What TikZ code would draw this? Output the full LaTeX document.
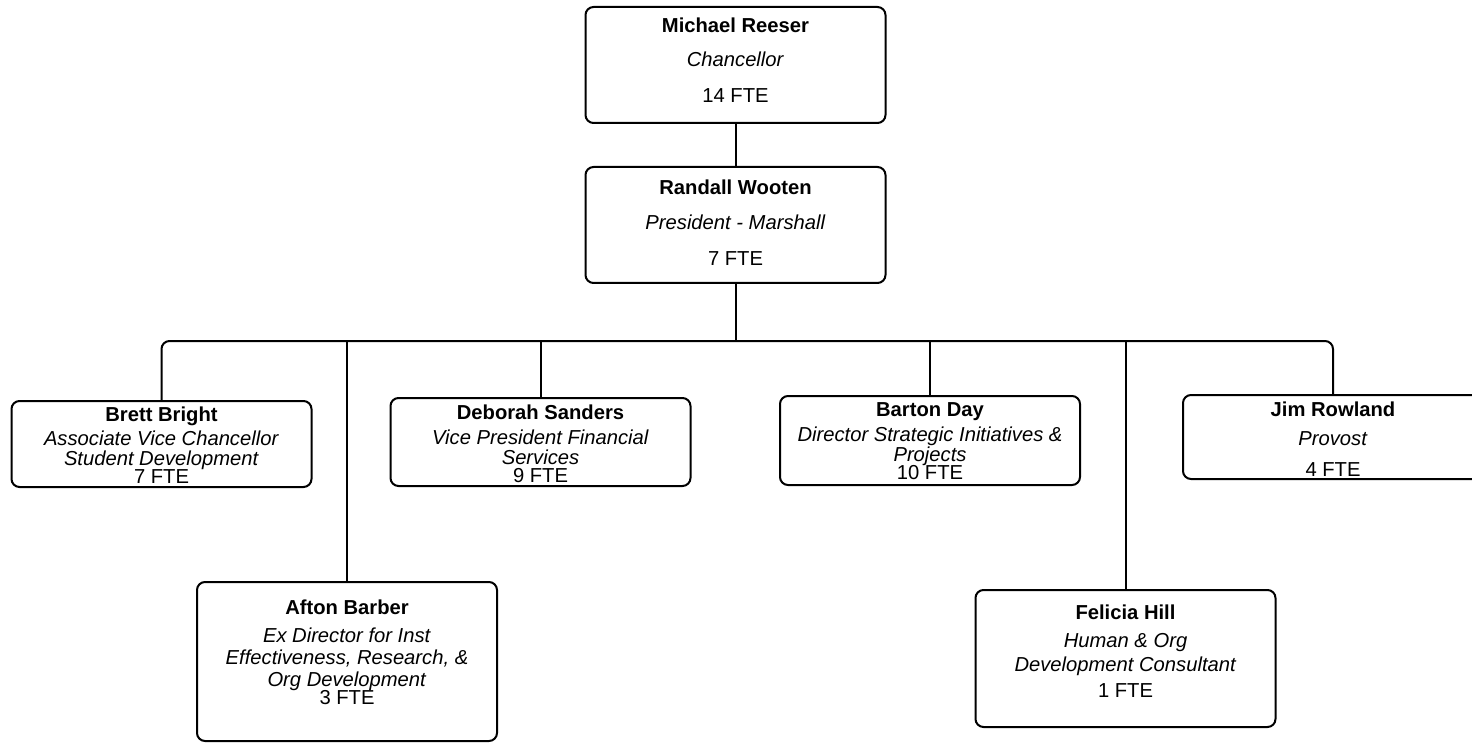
\documentclass[tikz,border=0pt]{standalone}
\usepackage{fontspec}
\setmainfont{Liberation Sans}

\begin{document}
\begin{tikzpicture}[x=0.5pt,y=-0.5pt,
  box/.style={draw, line width=1pt, rounded corners=4pt, minimum width=150pt, inner sep=0pt},
  txt/.style={anchor=north, align=center, inner sep=0pt, font=\fontsize{10.1}{11}\selectfont},
  link/.style={line width=1pt}]

\useasboundingbox (0,0) rectangle (1472,743);

%% boxes
\node[box, minimum height=58pt]   (reeser)  at (735.5,65)  {};
\node[box, minimum height=58pt]   (wooten)  at (735.5,225) {};
\node[box, minimum height=43pt]   (bright)  at (161.5,444) {};
\node[box, minimum height=44pt]   (sanders) at (540.5,442) {};
\node[box, minimum height=44.5pt] (day)     at (930,440.5) {};
\node[box, minimum height=42pt]   (rowland) at (1333,437)  {};
\node[box, minimum height=79.5pt] (barber)  at (347,661.5) {};
\node[box, minimum height=68.5pt] (hill)    at (1125.5,658.5) {};

%% box texts
\node[txt] (reeser-t) at ([yshift=-5.5pt]reeser.north)
  {\textbf{Michael Reeser}\\[6pt]\textit{Chancellor}\\[7pt]14 FTE};
\node[txt] (wooten-t) at ([yshift=-6.5pt]wooten.north)
  {\textbf{Randall Wooten}\\[6.5pt]\textit{President - Marshall}\\[7pt]7 FTE};
\node[txt] (bright-t) at ([yshift=-3pt]bright.north)
  {\textbf{Brett Bright}\\[1pt]\textit{Associate Vice Chancellor}\\[-1pt]\textit{Student Development}\\[-2pt]7 FTE};
\node[txt] (sanders-t) at ([yshift=-3.5pt]sanders.north)
  {\textbf{Deborah Sanders}\\[1.5pt]\textit{Vice President Financial}\\[-1pt]\textit{Services}\\[-2pt]9 FTE};
\node[txt] (day-t) at ([yshift=-3.5pt]day.north)
  {\textbf{Barton Day}\\[1.5pt]\textit{Director Strategic Initiatives \&}\\[-1pt]\textit{Projects}\\[-2pt]10 FTE};
\node[txt] (rowland-t) at ([yshift=-3.5pt]rowland.north)
  {\textbf{Jim Rowland}\\[3.5pt]\textit{Provost}\\[4.5pt]4 FTE};
\node[txt] (barber-t) at ([yshift=-9pt]barber.north)
  {\textbf{Afton Barber}\\[3pt]\textit{Ex Director for Inst}\\[0pt]\textit{Effectiveness, Research, \&}\\[0pt]\textit{Org Development}\\[-2pt]3 FTE};
\node[txt] (hill-t) at ([yshift=-7.5pt]hill.north)
  {\textbf{Felicia Hill}\\[3pt]\textit{Human \& Org}\\[1pt]\textit{Development Consultant}\\[2pt]1 FTE};

%% lines
\coordinate (bus) at (735.5,341);
\draw[link] (reeser) -- (wooten);
\draw[link] (wooten.south) -- (bus);
\draw[link, rounded corners=4pt] (bright.north) |- (bus) -| (rowland.north);
\draw[link] (barber.north)  -- (barber.north |- bus);
\draw[link] (sanders.north) -- (sanders.north |- bus);
\draw[link] (day.north)     -- (day.north |- bus);
\draw[link] (hill.north)    -- (hill.north |- bus);
\end{tikzpicture}
\end{document}
